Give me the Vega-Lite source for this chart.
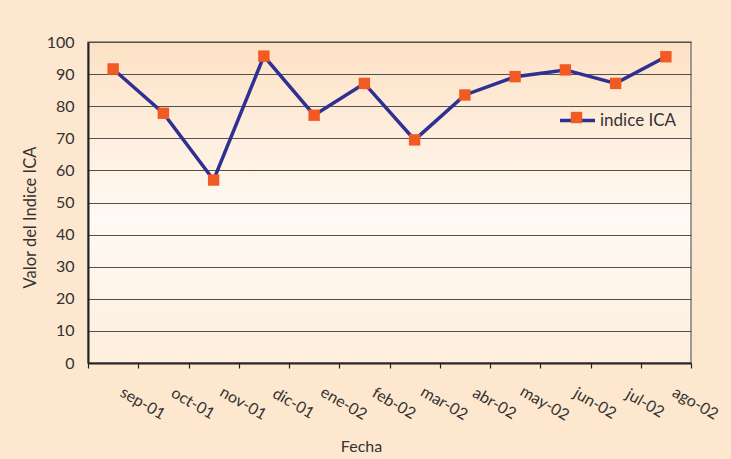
{
  "$schema": "https://vega.github.io/schema/vega-lite/v6.json",
  "width": 603,
  "height": 321,
  "autosize": {"type": "none"},
  "padding": {"left": 88, "top": 42, "right": 40, "bottom": 96},
  "background": "#fee7cf",
  "config": {
    "font": "Lato",
    "view": {
      "stroke": "#7f7f7f",
      "strokeWidth": 1.5,
      "fill": {
        "gradient": "linear",
        "x1": 0, "y1": 0, "x2": 0, "y2": 1,
        "stops": [
          {"offset": 0, "color": "#fde1c4"},
          {"offset": 0.55, "color": "#fffaf4"},
          {"offset": 1, "color": "#feeedd"}
        ]
      }
    },
    "axis": {
      "labelColor": "#333333",
      "titleColor": "#333333",
      "titleFontWeight": "normal",
      "domainColor": "#222222",
      "tickColor": "#222222"
    }
  },
  "data": {
    "values": [
      {"fecha": "sep-01", "valor": 91.6, "serie": "indice ICA"},
      {"fecha": "oct-01", "valor": 77.8, "serie": "indice ICA"},
      {"fecha": "nov-01", "valor": 57.0, "serie": "indice ICA"},
      {"fecha": "dic-01", "valor": 95.6, "serie": "indice ICA"},
      {"fecha": "ene-02", "valor": 77.2, "serie": "indice ICA"},
      {"fecha": "feb-02", "valor": 87.1, "serie": "indice ICA"},
      {"fecha": "mar-02", "valor": 69.5, "serie": "indice ICA"},
      {"fecha": "abr-02", "valor": 83.5, "serie": "indice ICA"},
      {"fecha": "may-02", "valor": 89.2, "serie": "indice ICA"},
      {"fecha": "jun-02", "valor": 91.3, "serie": "indice ICA"},
      {"fecha": "jul-02", "valor": 87.1, "serie": "indice ICA"},
      {"fecha": "ago-02", "valor": 95.4, "serie": "indice ICA"}
    ]
  },
  "encoding": {
    "x": {
      "field": "fecha",
      "type": "ordinal",
      "sort": null,
      "scale": {"type": "band", "paddingInner": 0, "paddingOuter": 0},
      "axis": {
        "title": "Fecha",
        "titleFontSize": 16,
        "titleX": 273,
        "titleY": 83,
        "titleAlign": "center",
        "titleBaseline": "middle",
        "labelAngle": 30,
        "labelAlign": "center",
        "labelBaseline": "middle",
        "labelOffset": 29,
        "labelPadding": 35,
        "labelFontSize": 16,
        "tickBand": "extent",
        "tickSize": 5,
        "tickWidth": 1.2,
        "domainWidth": 2,
        "grid": false
      }
    },
    "y": {
      "field": "valor",
      "type": "quantitative",
      "scale": {"domain": [0, 100], "nice": false},
      "axis": {
        "title": "Valor del Indice ICA",
        "titleFontSize": 16.5,
        "titleAngle": -90,
        "titleX": -58,
        "titleY": 175,
        "titleAlign": "center",
        "titleBaseline": "middle",
        "values": [0, 10, 20, 30, 40, 50, 60, 70, 80, 90, 100],
        "labelFontSize": 16,
        "labelPadding": 14,
        "ticks": false,
        "domainWidth": 2,
        "grid": true,
        "gridColor": "#505050",
        "gridWidth": 1.2,
        "gridOpacity": 1
      }
    }
  },
  "layer": [
    {
      "mark": {"type": "line", "strokeWidth": 3.5},
      "encoding": {
        "stroke": {
          "field": "serie",
          "type": "nominal",
          "scale": {"range": ["#2e3192"]},
          "legend": {
            "title": null,
            "orient": "none",
            "legendX": 470,
            "legendY": 59,
            "symbolType": "stroke",
            "symbolSize": 1225,
            "symbolStrokeWidth": 3.5,
            "labelFontSize": 17,
            "labelColor": "#333333",
            "labelOffset": 3,
            "padding": 0
          }
        }
      }
    },
    {
      "mark": {"type": "point", "shape": "square", "filled": true, "opacity": 1, "size": 130, "color": "#f15a22"},
      "encoding": {
        "fill": {
          "datum": "indice ICA",
          "type": "nominal",
          "scale": {"range": ["#f15a22"]},
          "legend": {
            "title": null,
            "orient": "none",
            "legendX": 482,
            "legendY": 69,
            "symbolType": "square",
            "symbolSize": 130,
            "symbolOpacity": 1,
            "labelExpr": "''",
            "labelFontSize": 1,
            "padding": 0
          }
        }
      }
    }
  ]
}
